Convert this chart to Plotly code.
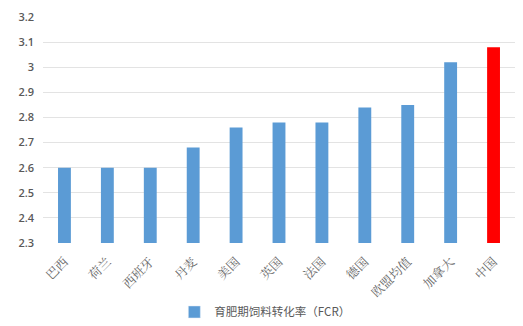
import plotly.graph_objects as go

categories = ["巴西", "荷兰", "西班牙", "丹麦", "美国", "英国", "法国", "德国", "欧盟均值", "加拿大", "中国"]
fcr_values = [2.60, 2.60, 2.60, 2.68, 2.76, 2.78, 2.78, 2.84, 2.85, 3.02, 3.08]
bar_colors = ["#5B9BD5"] * 10 + ["#FF0000"]
y_tick_vals = [2.3, 2.4, 2.5, 2.6, 2.7, 2.8, 2.9, 3.0, 3.1, 3.2]
y_tick_text = ["2.3", "2.4", "2.5", "2.6", "2.7", "2.8", "2.9", "3", "3.1", "3.2"]
series_name = "育肥期饲料转化率（FCR）"

fig = go.Figure()
fig.add_trace(go.Bar(
    x=categories, y=fcr_values,
    marker=dict(color=bar_colors, line=dict(width=0)),
    name=series_name, showlegend=False,
))
# legend entry with the blue swatch
fig.add_trace(go.Bar(
    x=[categories[0]], y=[None], marker=dict(color="#5B9BD5"),
    name=series_name, showlegend=True,
))

fig.update_layout(
    width=523, height=326,
    margin=dict(l=43, r=8, t=17, b=83),
    plot_bgcolor="white", paper_bgcolor="white",
    bargap=0.7,
    barmode="overlay",
    font=dict(family="Noto Sans CJK SC, sans-serif", color="#595959", size=11),
    legend=dict(orientation="h", x=0.47, xanchor="center",
                yref="container", y=0.043, yanchor="middle",
                font=dict(size=11.5, color="#595959"), itemwidth=30),
    xaxis=dict(tickangle=-45, showline=False, showgrid=False, ticks="", ticklabelstandoff=8,
               automargin=False,
               tickfont=dict(family="Noto Serif CJK SC, Noto Sans CJK SC, serif", size=12.5, color="#666666")),
    yaxis=dict(range=[2.3, 3.2], tickvals=y_tick_vals, ticktext=y_tick_text,
               showgrid=True, gridcolor="#E3E3E3", gridwidth=1, zeroline=False,
               showline=False, ticks="", ticklabelstandoff=8, automargin=False,
               tickfont=dict(family="Open Sans, sans-serif", size=11, color="#595959", weight=600)),
)
fig.write_html("out.html")
